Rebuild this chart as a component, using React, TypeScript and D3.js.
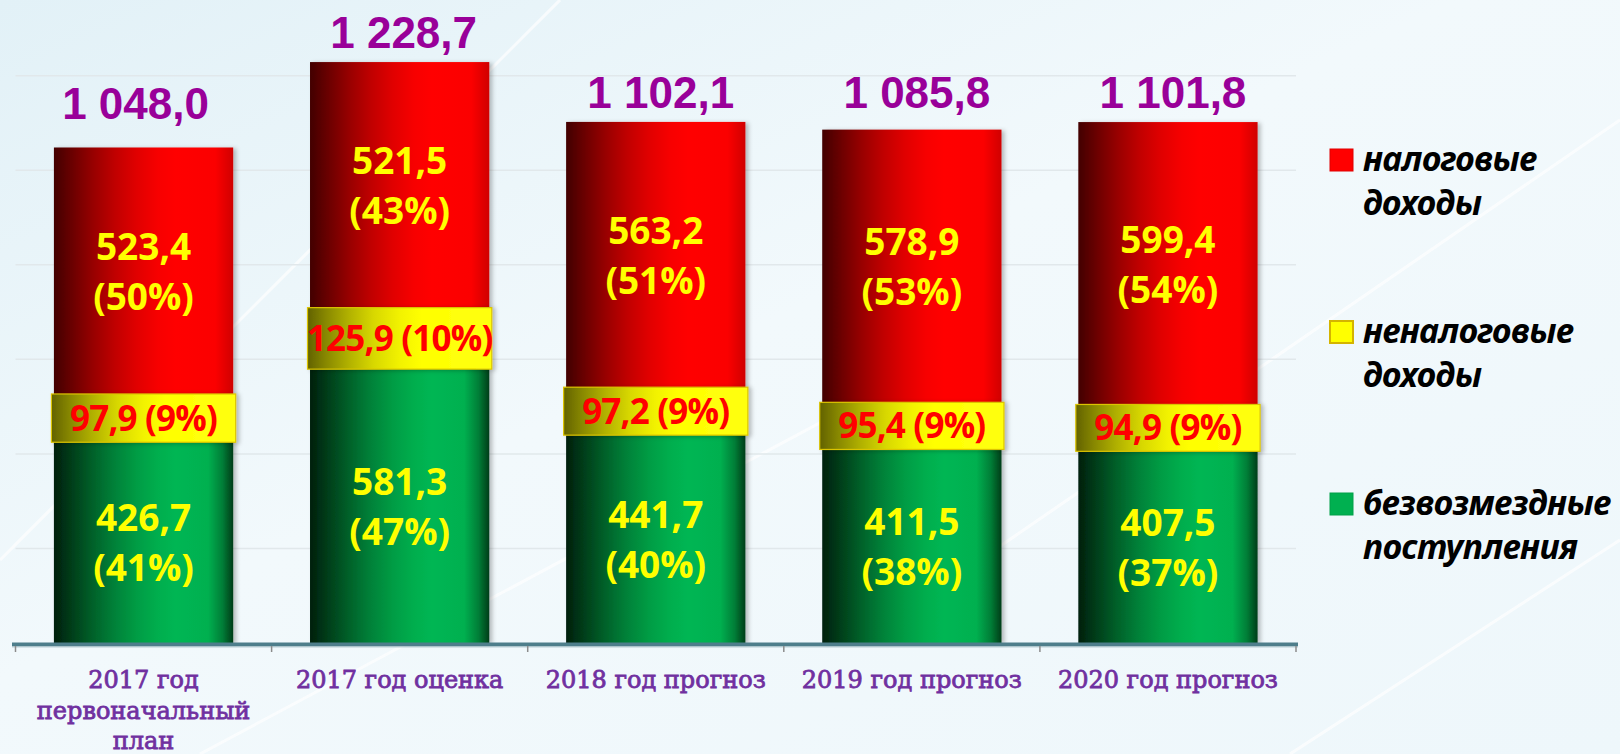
import * as d3 from "d3";
import { useEffect, useRef } from "react";

// values, млн руб.
const categories = [
  "2017 год\nпервоначальный\nплан",
  "2017 год оценка",
  "2018 год прогноз",
  "2019 год прогноз",
  "2020 год прогноз",
];
const taxIncome = [523.4, 521.5, 563.2, 578.9, 599.4];
const taxShare = [50, 43, 51, 53, 54];
const nonTaxIncome = [97.9, 125.9, 97.2, 95.4, 94.9];
const nonTaxShare = [9, 10, 9, 9, 9];
const transfers = [426.7, 581.3, 441.7, 411.5, 407.5];
const transfersShare = [41, 47, 40, 38, 37];
const totals = [1048.0, 1228.7, 1102.1, 1085.8, 1101.8];
const legendLabels = [
  ["налоговые", "доходы"],
  ["неналоговые", "доходы"],
  ["безвозмездные", "поступления"],
];
const yTicks = [200, 400, 600, 800, 1000, 1200];

const ru = d3.formatLocale({ decimal: ",", thousands: " ", grouping: [3], currency: ["", ""] });
const fmt = ru.format(",.1f");

export default function App() {
  const svgRef = useRef(null);

  useEffect(() => {
    const width = 1620;
    const height = 754;
    const svg = d3.select(svgRef.current);
    svg.selectAll("*").remove();
    svg.attr("width", width).attr("height", height);

    const defs = svg.append("defs");

    //background
    const bg = defs.append("linearGradient").attr("id", "bg").attr("x1", 0).attr("y1", 0).attr("x2", 1).attr("y2", 1);
    bg.append("stop").attr("offset", "0%").attr("stop-color", "#e2f1f7");
    bg.append("stop").attr("offset", "45%").attr("stop-color", "#f2f9fc");
    bg.append("stop").attr("offset", "100%").attr("stop-color", "#eef7fb");

    function hGrad(id, stops) {
      const g = defs.append("linearGradient").attr("id", id).attr("x1", 0).attr("y1", 0).attr("x2", 1).attr("y2", 0);
      stops.forEach(([o, c]) => g.append("stop").attr("offset", o).attr("stop-color", c));
    }
    hGrad("red", [
      ["0%", "#420000"], ["10%", "#6a0000"], ["22%", "#980000"], ["34%", "#c00000"], ["46%", "#e00000"],
      ["58%", "#f70000"], ["68%", "#ff0000"], ["90%", "#fb0000"], ["100%", "#d00000"],
    ]);
    hGrad("green", [
      ["0%", "#001f0c"], ["10%", "#003e1a"], ["22%", "#00622a"], ["34%", "#008239"], ["46%", "#009c44"],
      ["58%", "#00ae4e"], ["68%", "#00b653"], ["86%", "#00b050"], ["94%", "#007e37"], ["100%", "#003d18"],
    ]);
    hGrad("yellow", [
      ["0%", "#626200"], ["10%", "#888800"], ["22%", "#b0b000"], ["36%", "#d8d800"], ["50%", "#f2f200"],
      ["62%", "#ffff00"], ["100%", "#ffff10"],
    ]);

    const shadow = defs.append("filter").attr("id", "shadow").attr("x", "-10%").attr("y", "-10%").attr("width", "130%").attr("height", "125%");
    shadow.append("feDropShadow").attr("dx", 3).attr("dy", 1).attr("stdDeviation", 2).attr("flood-color", "#000").attr("flood-opacity", 0.25);

    svg.append("rect").attr("width", width).attr("height", height).attr("fill", "url(#bg)");
    // faint diagonal streaks
    [[0, 560, 560, 0], [1290, 754, 1620, 540], [200, 754, 900, 380], [980, 560, 1620, 120]].forEach(([x1, y1, x2, y2]) => {
      svg.append("line").attr("x1", x1).attr("y1", y1).attr("x2", x2).attr("y2", y2)
        .attr("stroke", "#ffffff").attr("stroke-width", 3).attr("opacity", 0.7);
    });

    //scales
    const x = d3.scaleBand().domain(categories).range([15.5, 1296]).paddingInner(0.3).paddingOuter(0.15);
    const y = d3.scaleLinear().domain([0, 1400]).range([643, 643 - 1400 * 0.4728]);
    const step = x.step();

    //gridlines
    svg.append("g").selectAll("line").data(yTicks).enter().append("line")
      .attr("x1", 15.5).attr("x2", 1296)
      .attr("y1", (d) => y(d)).attr("y2", (d) => y(d))
      .attr("stroke", "#e1e8eb").attr("stroke-width", 1.5);

    //stack
    const rows = categories.map((c, i) => ({ cat: c, transfers: transfers[i], nonTax: nonTaxIncome[i], tax: taxIncome[i] }));
    const series = d3.stack().keys(["transfers", "nonTax", "tax"])(rows);
    const bw = x.bandwidth();

    const bars = svg.append("g");
    [series[0], series[2]].forEach((s) => {
      bars.selectAll(null).data(s).enter().append("rect")
        .attr("x", (d) => x(d.data.cat))
        .attr("y", (d) => y(d[1]))
        .attr("width", bw)
        .attr("height", (d) => y(d[0]) - y(d[1]))
        .attr("fill", s.key === "tax" ? "url(#red)" : "url(#green)")
        .attr("filter", "url(#shadow)");
    });
    bars.selectAll(null).data(series[1]).enter().append("rect")
      .attr("x", (d) => x(d.data.cat) - 2.5)
      .attr("y", (d) => y(d[1]) - 1)
      .attr("width", bw + 5)
      .attr("height", (d) => y(d[0]) - y(d[1]) + 2)
      .attr("fill", "url(#yellow)")
      .attr("stroke", "#dcc400")
      .attr("stroke-width", 1.2)
      .attr("filter", "url(#shadow)");

    //axis
    svg.append("line").attr("x1", 12).attr("x2", 1298).attr("y1", 644.5).attr("y2", 644.5)
      .attr("stroke", "#4e7e8b").attr("stroke-width", 4);
    svg.append("line").attr("x1", 12).attr("x2", 1298).attr("y1", 647).attr("y2", 647)
      .attr("stroke", "#bcd0d6").attr("stroke-width", 1);
    svg.append("g").selectAll("line").data(d3.range(categories.length + 1)).enter().append("line")
      .attr("x1", (i) => 15.5 + i * step).attr("x2", (i) => 15.5 + i * step)
      .attr("y1", 646).attr("y2", 652)
      .attr("stroke", "#8c8c8c").attr("stroke-width", 1.5);

    //segment labels
    const labelFont = "'Open Sans', 'Noto Sans', sans-serif";
    function twoLine(val, share, y0, y1, cat) {
      const cy = (y(y0) + y(y1)) / 2;
      const t = svg.append("text").attr("text-anchor", "middle").attr("font-family", labelFont)
        .attr("font-weight", 700).attr("font-size", 37).attr("fill", "#ffff00");
      t.append("tspan").attr("x", x(cat) + bw / 2).attr("y", cy - 11).text(fmt(val));
      t.append("tspan").attr("x", x(cat) + bw / 2).attr("y", cy + 39).text(`(${share}%)`);
    }
    categories.forEach((c, i) => {
      twoLine(transfers[i], transfersShare[i], series[0][i][0], series[0][i][1], c);
      twoLine(taxIncome[i], taxShare[i], series[2][i][0], series[2][i][1], c);
      svg.append("text").attr("x", x(c) + bw / 2)
        .attr("y", (y(series[1][i][0]) + y(series[1][i][1])) / 2 + 12.5)
        .attr("text-anchor", "middle").attr("font-family", labelFont).attr("font-weight", 700)
        .attr("font-size", 35).attr("letter-spacing", -0.8).attr("fill", "#ff0000")
        .text(`${fmt(nonTaxIncome[i])} (${nonTaxShare[i]}%)`);
    });

    //totals
    const totalLift = [29, 14, 14, 22, 14];
    const totalShift = [-8, 4, 5, 5, 5];
    svg.append("g").selectAll("text").data(totals).enter().append("text")
      .attr("x", (d, i) => x(categories[i]) + bw / 2 + totalShift[i])
      .attr("y", (d, i) => y(d) - totalLift[i])
      .attr("text-anchor", "middle")
      .attr("font-family", "'Liberation Sans', Arial, sans-serif")
      .attr("font-weight", 700).attr("font-size", 44).attr("fill", "#990099")
      .text((d) => fmt(d));

    //category labels
    categories.forEach((c) => {
      const t = svg.append("text").attr("text-anchor", "middle")
        .attr("font-family", "'DejaVu Serif', serif").attr("font-size", 24)
        .attr("fill", "#7030a0").attr("stroke", "#7030a0").attr("stroke-width", 0.8);
      c.split("\n").forEach((line, k) => {
        t.append("tspan").attr("x", x(c) + bw / 2).attr("y", 688 + k * 30.5).text(line);
      });
    });

    //legend
    const legendColors = [["#ff0000", "#e00000"], ["#ffff00", "#d4b400"], ["#00b050", "#00a048"]];
    legendLabels.forEach((lines, i) => {
      const base = 171 + i * 172;
      svg.append("rect").attr("x", 1330).attr("y", base - 22).attr("width", 23).attr("height", 22)
        .attr("fill", legendColors[i][0]).attr("stroke", legendColors[i][1]).attr("stroke-width", i === 1 ? 2 : 1);
      const t = svg.append("text").attr("font-family", "'Noto Sans', 'Open Sans', sans-serif")
        .attr("font-style", "italic").attr("font-weight", 700).attr("font-size", 34)
        .attr("letter-spacing", -0.5).attr("fill", "#000");
      lines.forEach((line, k) => {
        t.append("tspan").attr("x", 1363).attr("y", base + k * 44).text(line);
      });
    });
  }, []);

  return (
    <div>
      <style>{"body{margin:0}"}</style>
      <svg ref={svgRef} style={{ display: "block" }}></svg>
    </div>
  );
}
